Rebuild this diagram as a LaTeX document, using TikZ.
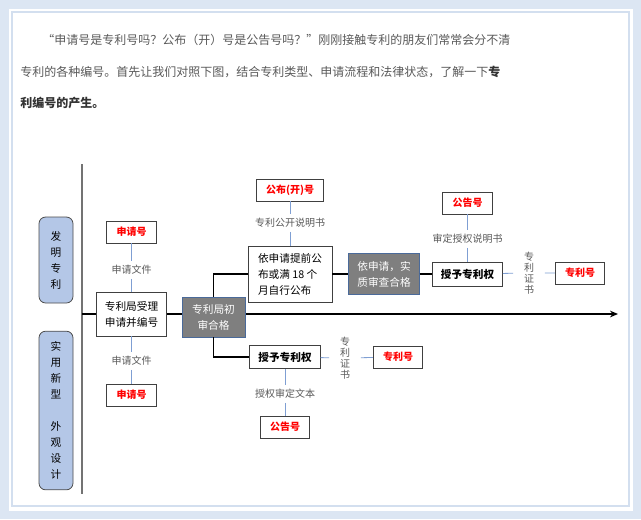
\documentclass[tikz,border=0pt]{standalone}
\usepackage{fontspec}
\setmainfont{Noto Sans CJK SC}
\usetikzlibrary{arrows.meta}
\definecolor{pagebg}{HTML}{DCE6F3}
\definecolor{rimblue}{HTML}{D3DFEF}
\definecolor{sidefill}{HTML}{B4C7E7}
\definecolor{greyfill}{HTML}{7F7F7F}
\definecolor{greyrim}{HTML}{4A6A9A}
\definecolor{linkblue}{HTML}{7F9FD3}
\definecolor{txtgrey}{HTML}{595959}
\definecolor{numred}{HTML}{FF0000}
\begin{document}
\begin{tikzpicture}[x=0.75pt, y=-0.75pt,
	plainbox/.style={draw=black!75, fill=white, line width=0.6pt, font=\fontsize{8}{12}\selectfont, align=center, inner sep=1pt},
	redbox/.style={plainbox, text=numred, font=\fontsize{7.5}{9}\selectfont\bfseries, minimum width=37pt, minimum height=16.5pt},
	greybox/.style={fill=greyfill, draw=greyrim, line width=0.5pt, text=white, font=\fontsize{8}{12}\selectfont, align=center, inner sep=1pt},
	sidebox/.style={draw=black!70, fill=sidefill, rounded corners=5pt, line width=0.6pt, minimum width=25.5pt, font=\fontsize{8}{12}\selectfont, align=center},
	lbl/.style={text=txtgrey, font=\fontsize{7.5}{9}\selectfont, inner ysep=3pt},
	vlbl/.style={text=txtgrey, font=\fontsize{7.5}{8.3}\selectfont, align=center, inner xsep=8pt, inner ysep=1pt},
	para/.style={text=txtgrey, font=\fontsize{9}{11}\selectfont, anchor=west, inner sep=0pt},
	bline/.style={linkblue, line width=0.6pt},
	kline/.style={black, line width=1.1pt}]
	%page
	\fill[pagebg] (0,0) rectangle (641,519);
	\fill[white] (9,9) rectangle (633,511);
	\draw[rimblue, line width=0.8pt] (12,12) rectangle (629,506);
	\useasboundingbox (0,0) rectangle (641,519);
	
	%intro text
	\node[para] (p1) at (42,40) {“申请号是专利号吗？公布（开）号是公告号吗？”刚刚接触专利的朋友们常常会分不清};
	\node[para] (p2) at (20,72) {专利的各种编号。首先让我们对照下图，结合专利类型、申请流程和法律状态，了解一下\textcolor{black!80}{\bfseries 专}};
	\node[para] (p3) at (20,103) {\textcolor{black!80}{\bfseries 利编号的产生。}};
	
	%axes
	\coordinate (vt) at (82,164);
	\coordinate (vb) at (82,494);
	\draw[black!55, line width=0.8pt] (vt) -- (vb);
	\coordinate (ax0) at (82,314);
	\coordinate (ax1) at (618,314);
	\draw[kline, -{Stealth[length=6pt, width=5pt]}] (ax0) -- (ax1);
	
	%patent kinds
	\node[sidebox, minimum height=64.5pt] (fm) at (56,260) {发\\明\\专\\利};
	\node[sidebox, minimum height=119pt] (sy) at (56,410.5) {实\\用\\新\\型\\[12pt]外\\观\\设\\计};
	
	%filing
	\node[redbox] (sq1) at (131.5,232) {申请号};
	\node[lbl] (wj1) at (131.5,270) {申请文件};
	\node[plainbox, minimum width=53pt, minimum height=33pt] (sl) at (131.5,314) {专利局受理\\申请并编号};
	\node[lbl] (wj2) at (131.5,361) {申请文件};
	\node[redbox] (sq2) at (131.5,395) {申请号};
	\draw[bline] (sq1) -- (wj1) -- (sl);
	\draw[bline] (sl) -- (wj2) -- (sq2);
	
	\node[greybox, minimum width=47pt, minimum height=30pt] (cs) at (213.5,317) {专利局初\\审合格};
	
	%invention branch
	\node[plainbox, align=left, minimum width=63pt, minimum height=42pt] (gb) at (290,274) {依申请提前公\\布或满 18 个\\月自行公布};
	\node[lbl] (sm1) at (290,223) {专利公开说明书};
	\node[redbox, minimum width=50pt] (gbh) at (290,190) {公布(开)号};
	\draw[bline] (gbh) -- (sm1) -- (gb);
	\node[greybox, minimum width=53pt, minimum height=31pt] (sc) at (384,274) {依申请，实\\质审查合格};
	\node[plainbox, font=\fontsize{8}{12}\selectfont\bfseries, minimum width=52.5pt, minimum height=18pt] (sq3) at (467.5,274) {授予专利权};
	\node[lbl] (sm2) at (467.5,239) {审定授权说明书};
	\node[redbox] (gg1) at (467.5,203) {公告号};
	\node[vlbl] (zs1) at (529,273) {专\\利\\证\\书};
	\node[redbox] (zl1) at (580,273) {专利号};
	\draw[kline] (cs.north) |- (gb.west);
	\draw[kline] (gb) -- (sc);
	\draw[kline] (sc) -- (sq3);
	\draw[bline] (gg1) -- (sm2) -- (sq3);
	\draw[bline] (sq3) -- (zs1) -- (zl1);
	
	%utility model and design branch
	\node[plainbox, font=\fontsize{8}{12}\selectfont\bfseries, minimum width=53pt, minimum height=17.5pt] (sq4) at (285,357) {授予专利权};
	\node[vlbl] (zs2) at (345,358) {专\\利\\证\\书};
	\node[redbox] (zl2) at (398,357) {专利号};
	\node[lbl] (sm3) at (285,394) {授权审定文本};
	\node[redbox] (gg2) at (285,427) {公告号};
	\draw[kline] (cs.south) |- (sq4.west);
	\draw[bline] (sq4) -- (zs2) -- (zl2);
	\draw[bline] (sq4) -- (sm3) -- (gg2);
\end{tikzpicture}
\end{document}
